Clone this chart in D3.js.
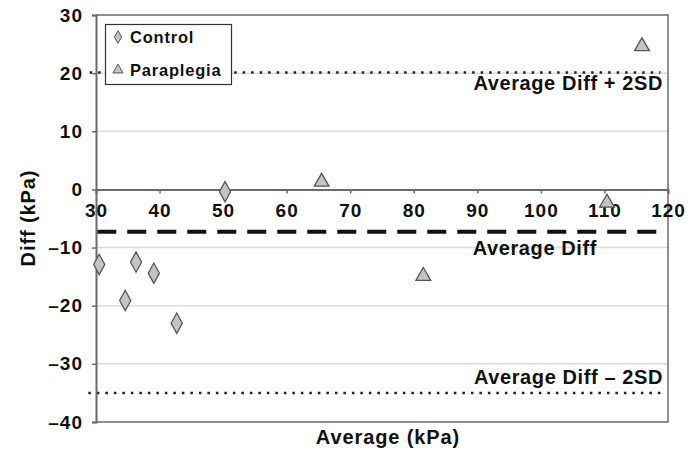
<!DOCTYPE html>
<html>
<head>
<meta charset="utf-8">
<script src="https://cdn.jsdelivr.net/npm/d3@7"></script>
<style>
  body { margin: 0; background: #fff; }
  svg text { font-family: "Liberation Sans", Arial, sans-serif; font-weight: bold; fill: #111; letter-spacing: 1px; }
</style>
</head>
<body>
<script>
// Bland-Altman style plot: difference vs average
const controlAvg  = [50.3, 30.5, 34.6, 36.3, 39.1, 42.7];
const controlDiff = [-0.4, -12.9, -19.1, -12.5, -14.4, -23.0];
const paraAvg  = [65.5, 115.9, 81.5, 110.4];
const paraDiff = [1.3, 24.6, -14.9, -2.3];

const meanDiff = -7.3;
const upperLimit = 20.1;
const lowerLimit = -35.0;

const xTicks = [30, 40, 50, 60, 70, 80, 90, 100, 110, 120];
const yTicks = [30, 20, 10, 0, -10, -20, -30, -40];

const w = 699, h = 453;
const plotL = 96, plotR = 668, plotT = 15, plotB = 422;

const x = d3.scaleLinear().domain([30, 120]).range([plotL, plotR]);
const y = d3.scaleLinear().domain([-40, 30]).range([plotB, plotT]);

const svg = d3.select("body").append("svg")
  .attr("width", w)
  .attr("height", h);

// grid lines
svg.append("g").selectAll("line")
  .data(yTicks.filter(d => d != 0 && d != 30 && d != -40))
  .enter().append("line")
  .attr("x1", plotL).attr("x2", plotR)
  .attr("y1", d => y(d)).attr("y2", d => y(d))
  .attr("stroke", "#dcdcdc").attr("stroke-width", 1.5);

// plot frame (top, right, bottom)
svg.append("path")
  .attr("d", `M${plotL},${plotT}H${plotR}V${plotB}H${plotL}`)
  .attr("fill", "none").attr("stroke", "#6a6a6a").attr("stroke-width", 1.5);

// limit lines
svg.append("line")
  .attr("x1", x(29)).attr("x2", x(118.8))
  .attr("y1", y(upperLimit)).attr("y2", y(upperLimit))
  .attr("stroke", "#222").attr("stroke-width", 2.5).attr("stroke-dasharray", "2.5,6");
svg.append("line")
  .attr("x1", x(28.8)).attr("x2", x(118.8))
  .attr("y1", y(lowerLimit)).attr("y2", y(lowerLimit))
  .attr("stroke", "#222").attr("stroke-width", 2.5).attr("stroke-dasharray", "2.5,6");
svg.append("line")
  .attr("x1", x(30.2)).attr("x2", x(118.3))
  .attr("y1", y(meanDiff)).attr("y2", y(meanDiff))
  .attr("stroke", "#111").attr("stroke-width", 4).attr("stroke-dasharray", "19,11");

// y axis
const yAxis = svg.append("g")
  .attr("transform", `translate(${plotL},0)`)
  .call(d3.axisLeft(y).tickValues(yTicks).tickSize(4).tickPadding(9)
    .tickFormat(d => d < 0 ? "\u2013" + Math.abs(d) : d));
yAxis.select(".domain").attr("stroke", "#6a6a6a").attr("stroke-width", 2);
yAxis.selectAll(".tick line").attr("stroke", "#6a6a6a").attr("stroke-width", 1.5);
yAxis.selectAll("text").style("font-size", "19px").attr("fill", "#111");

// x axis at y = 0
const xAxis = svg.append("g")
  .attr("transform", `translate(0,${y(0)})`)
  .call(d3.axisBottom(x).tickValues(xTicks).tickSize(4).tickPadding(10));
xAxis.select(".domain").attr("stroke", "#6a6a6a").attr("stroke-width", 2);
xAxis.selectAll(".tick line").attr("stroke", "#6a6a6a").attr("stroke-width", 1.5);
xAxis.selectAll("text").style("font-size", "19px").attr("fill", "#111");

// limit labels
svg.append("text").attr("x", 663).attr("y", y(upperLimit) + 17)
  .attr("text-anchor", "end").style("font-size", "20px").style("letter-spacing", "0.6px")
  .text("Average Diff + 2SD");
svg.append("text").attr("x", 597).attr("y", y(meanDiff) + 23)
  .attr("text-anchor", "end").style("font-size", "20px").style("letter-spacing", "0.6px")
  .text("Average Diff");
svg.append("text").attr("x", 663).attr("y", y(lowerLimit) - 9)
  .attr("text-anchor", "end").style("font-size", "20px").style("letter-spacing", "0.6px")
  .text("Average Diff \u2013 2SD");

// markers
const diamond = d3.symbol().type(d3.symbolDiamond).size(120);
const triangle = d3.symbol().type(d3.symbolTriangle).size(95);

svg.append("g").selectAll("path")
  .data(controlAvg.map((a, i) => [a, controlDiff[i]]))
  .enter().append("path")
  .attr("d", diamond)
  .attr("transform", d => `translate(${x(d[0])},${y(d[1])}) scale(0.95,1)`)
  .attr("fill", "#c4c4c4").attr("stroke", "#555").attr("stroke-width", 1.3);

svg.append("g").selectAll("path")
  .data(paraAvg.map((a, i) => [a, paraDiff[i]]))
  .enter().append("path")
  .attr("d", triangle)
  .attr("transform", d => `translate(${x(d[0])},${y(d[1])})`)
  .attr("fill", "#c4c4c4").attr("stroke", "#555").attr("stroke-width", 1.3);

// legend
const lg = svg.append("g");
lg.append("rect").attr("x", 105.5).attr("y", 24.5).attr("width", 126).attr("height", 60)
  .attr("fill", "#fff").attr("stroke", "#333").attr("stroke-width", 1.2);
lg.append("path").attr("d", d3.symbol().type(d3.symbolDiamond).size(45))
  .attr("transform", "translate(118,37)")
  .attr("fill", "#c4c4c4").attr("stroke", "#555").attr("stroke-width", 1);
lg.append("path").attr("d", d3.symbol().type(d3.symbolTriangle).size(45))
  .attr("transform", "translate(118,70)")
  .attr("fill", "#c4c4c4").attr("stroke", "#555").attr("stroke-width", 1);
lg.append("text").attr("x", 130).attr("y", 43).style("font-size", "16.5px").style("letter-spacing", "0.8px").text("Control");
lg.append("text").attr("x", 130).attr("y", 76).style("font-size", "16.5px").style("letter-spacing", "0.8px").text("Paraplegia");

// axis titles
svg.append("text").attr("x", 388).attr("y", 444)
  .attr("text-anchor", "middle").style("font-size", "20px").style("letter-spacing", "0.9px")
  .text("Average (kPa)");
svg.append("text")
  .attr("transform", "translate(35,218) rotate(-90)")
  .attr("text-anchor", "middle").style("font-size", "20px").style("letter-spacing", "0.9px")
  .text("Diff (kPa)");
</script>
</body>
</html>
